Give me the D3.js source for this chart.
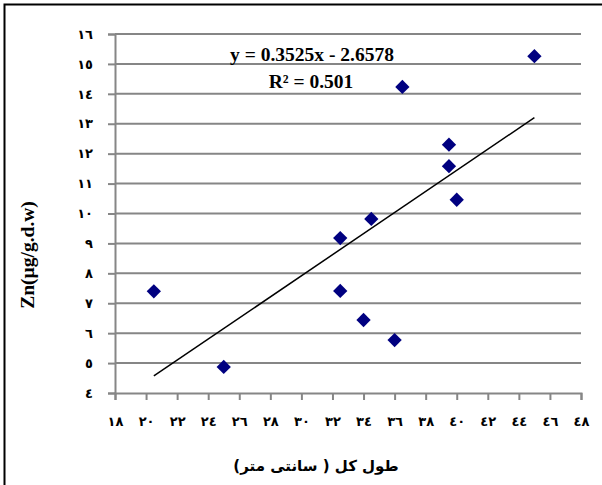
<!DOCTYPE html>
<html>
<head>
<meta charset="utf-8">
<script src="https://cdn.jsdelivr.net/npm/d3@7"></script>
<style>
  html, body { margin: 0; padding: 0; background: #fff; }
  svg { display: block; }
</style>
</head>
<body>
<svg id="chart" width="602" height="485"></svg>
<script>
// Total length (cm) and zinc concentration (µg/g dry weight)
const lengths = [20.5, 25.0, 32.5, 34.5, 32.5, 34.0, 36.0, 36.5, 39.5, 39.5, 40.0, 45.0];
const zinc    = [7.4, 4.87, 9.18, 9.82, 7.41, 6.44, 5.77, 14.23, 12.3, 11.58, 10.46, 15.26];

// Linear trendline
const slope = 0.3525;
const intercept = -2.6578;
const rSquared = 0.501;

const xTicks = [18, 20, 22, 24, 26, 28, 30, 32, 34, 36, 38, 40, 42, 44, 46, 48];
const yTicks = [4, 5, 6, 7, 8, 9, 10, 11, 12, 13, 14, 15, 16];

const xTitle = "طول کل ( سانتی متر)";
const yTitle = "Zn(µg/g.d.w)";

const arabicDigits = n => String(n).replace(/[0-9]/g, d => "٠١٢٣٤٥٦٧٨٩"[+d]);

const svg = d3.select("#chart");
const margin = { left: 115, right: 21, top: 34, bottom: 92 };
const W = 602, H = 485;

const x = d3.scaleLinear().domain([18, 48]).range([margin.left, W - margin.right]);
const y = d3.scaleLinear().domain([4, 16]).range([H - margin.bottom, margin.top]);

// outer frame
svg.append("rect")
  .attr("x", 4.5).attr("y", 4.5)
  .attr("width", W + 10).attr("height", H + 10)
  .attr("fill", "none").attr("stroke", "#000").attr("stroke-width", 2);

// horizontal gridlines
svg.append("g").selectAll("line").data(yTicks.filter(t => t > 4)).join("line")
  .attr("x1", x(18)).attr("x2", x(48))
  .attr("y1", d => y(d)).attr("y2", d => y(d))
  .attr("stroke", "#868686").attr("stroke-width", 2);

// y axis
const yAxis = svg.append("g")
  .attr("transform", `translate(${x(18)},0)`)
  .call(d3.axisLeft(y).tickValues(yTicks).tickSize(7).tickFormat(arabicDigits));
yAxis.select(".domain").attr("stroke", "#868686").attr("stroke-width", 2);
yAxis.selectAll(".tick line").attr("stroke", "#868686").attr("stroke-width", 2);
yAxis.selectAll(".tick text")
  .attr("x", -22)
  .attr("fill", "#000")
  .style("font-family", "DejaVu Sans")
  .style("font-weight", "bold")
  .style("font-size", "13px");

// x axis
const xAxis = svg.append("g")
  .attr("transform", `translate(0,${y(4)})`)
  .call(d3.axisBottom(x).tickValues(xTicks).tickSize(7).tickFormat(arabicDigits));
xAxis.select(".domain").attr("stroke", "#868686").attr("stroke-width", 2);
xAxis.selectAll(".tick line").attr("stroke", "#868686").attr("stroke-width", 2);
xAxis.selectAll(".tick text")
  .attr("y", 24)
  .attr("fill", "#000")
  .style("font-family", "DejaVu Sans")
  .style("font-weight", "bold")
  .style("font-size", "13px");

// trendline across the data range
const xMin = d3.min(lengths), xMax = d3.max(lengths);
svg.append("line")
  .attr("x1", x(xMin)).attr("y1", y(slope * xMin + intercept))
  .attr("x2", x(xMax)).attr("y2", y(slope * xMax + intercept))
  .attr("stroke", "#000").attr("stroke-width", 1.5);

// data points as diamonds
const diamond = d3.symbol().type(d3.symbolDiamond2).size(130);
svg.append("g").selectAll("path").data(lengths.map((v, i) => [v, zinc[i]])).join("path")
  .attr("transform", d => `translate(${x(d[0])},${y(d[1])})`)
  .attr("d", diamond)
  .attr("fill", "#000080");

// trendline equation
const eq = svg.append("g")
  .style("font-family", "Liberation Serif")
  .style("font-weight", "bold")
  .style("font-size", "19.5px")
  .attr("fill", "#000");
eq.append("text")
  .attr("x", 312).attr("y", 61)
  .attr("text-anchor", "middle")
  .text(`y = ${slope}x - ${Math.abs(intercept)}`);
eq.append("text")
  .attr("x", 311).attr("y", 88)
  .attr("text-anchor", "middle")
  .text(`R² = ${rSquared}`);

// axis titles
svg.append("text")
  .attr("x", 316).attr("y", 471)
  .attr("text-anchor", "middle")
  .style("font-family", "DejaVu Sans")
  .style("font-weight", "bold")
  .style("font-size", "15px")
  .text(xTitle);

svg.append("text")
  .attr("transform", `translate(34,255) rotate(-90)`)
  .attr("text-anchor", "middle")
  .style("font-family", "Liberation Serif")
  .style("font-weight", "bold")
  .style("font-size", "19.5px")
  .text(yTitle);
</script>
</body>
</html>
